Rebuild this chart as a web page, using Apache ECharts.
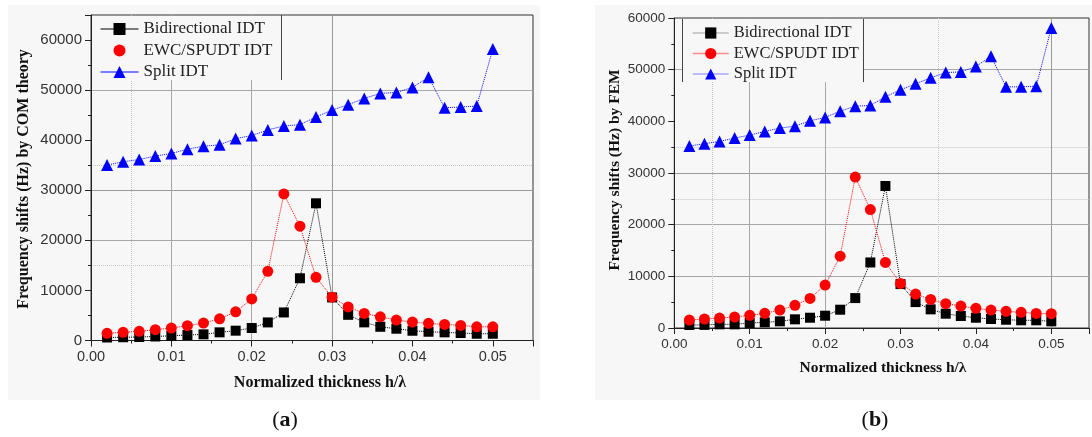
<!DOCTYPE html>
<html>
<head>
<meta charset="utf-8">
<script src="https://cdn.jsdelivr.net/npm/echarts@6/dist/echarts.min.js"></script>
<style>
  html, body { margin: 0; padding: 0; background: #ffffff; }
  #wrap { position: relative; width: 1092px; height: 437px; overflow: hidden; }
  .panel { position: absolute; background: #f7f7f7; }
  #chart { position: absolute; left: 0; top: 0; width: 1092px; height: 437px; }
</style>
</head>
<body>
<div id="wrap">
  <div class="panel" style="left:8px;top:5px;width:532px;height:395px;"></div>
  <div class="panel" style="left:595px;top:5px;width:497px;height:395px;"></div>
  <div id="chart"></div>
</div>
<script>
// ---- data ----
const thickness = [0.002, 0.004, 0.006, 0.008, 0.010, 0.012, 0.014, 0.016, 0.018, 0.020,
                   0.022, 0.024, 0.026, 0.028, 0.030, 0.032, 0.034, 0.036, 0.038, 0.040,
                   0.042, 0.044, 0.046, 0.048, 0.050];
const seriesNames = ['Bidirectional IDT', 'EWC/SPUDT IDT', 'Split IDT'];

// (a) COM theory
const comBidirectional = [600, 650, 700, 800, 950, 1090, 1230, 1630, 1960, 2490, 3610, 5600, 12430, 27400, 8600, 5130, 3620, 2740, 2350, 1950, 1750, 1630, 1490, 1350, 1350];
const comEwcSpudt = [1430, 1630, 1830, 2150, 2490, 2950, 3480, 4340, 5730, 8310, 13820, 29260, 22820, 12620, 8650, 6700, 5400, 4730, 4080, 3680, 3420, 3220, 3020, 2740, 2740];
const comSplit = [35030, 35690, 36150, 36820, 37340, 38200, 38800, 39070, 40320, 40920, 42050, 42840, 43100, 44630, 46020, 47080, 48350, 49340, 49540, 50540, 52580, 46480, 46620, 46820, 58210];

// (b) FEM
const femBidirectional = [580, 600, 710, 710, 970, 1100, 1290, 1680, 1990, 2380, 3540, 5790, 12690, 27480, 8500, 5020, 3610, 2770, 2320, 1990, 1740, 1600, 1490, 1490, 1290];
const femEwcSpudt = [1545, 1740, 1930, 2120, 2450, 2840, 3480, 4380, 5730, 8300, 13900, 29220, 22920, 12690, 8630, 6570, 5540, 4700, 4250, 3800, 3480, 3220, 3030, 2830, 2770];
const femSplit = [35220, 35670, 36110, 36760, 37340, 38050, 38690, 39070, 40110, 40750, 41970, 42930, 43070, 44750, 46100, 47260, 48420, 49440, 49570, 50600, 52600, 46680, 46680, 46800, 58070];

const xTickLabels = ['0.00', '0.01', '0.02', '0.03', '0.04', '0.05'];
const yLabelA = 'Frequency shifts (Hz) by COM theory';
const yLabelB = 'Frequency shifts (Hz) by FEM';
const xLabel = 'Normalized thickness h/λ';

// ---- helpers ----
const pairs = ys => thickness.map((x, i) => [x, ys[i]]);
const T = 'transparent';
const GRID_C = '#a8a8a8';
const DOT_C = '#c4c4c4';
const AXIS_C = '#222';

function majorX(gridIndex, colors, fs) {
  return {
    type: 'value', gridIndex, min: 0, max: 0.055, interval: 0.01, position: 'bottom',
    axisLine: { show: true, onZero: false, lineStyle: { color: AXIS_C, width: 1 } },
    axisTick: { show: true, length: 6, lineStyle: { color: AXIS_C } },
    axisLabel: {
      color: '#333', fontFamily: 'Liberation Sans', fontSize: fs, margin: 9,
      formatter: v => { const k = Math.round(v * 100); return (v > 0.0501) ? '' : xTickLabels[k]; }
    },
    splitLine: { show: true, showMinLine: true, showMaxLine: true, lineStyle: { color: colors, width: 1 } }
  };
}
function minorX(gridIndex, colors) {
  return {
    type: 'value', gridIndex, min: 0, max: 0.055, interval: 0.005, position: 'bottom',
    axisLine: { show: false, onZero: false },
    axisTick: { show: true, length: 3, lineStyle: { color: AXIS_C } },
    axisLabel: { show: false },
    splitLine: { show: true, showMinLine: true, showMaxLine: true, lineStyle: { color: colors, type: 'dotted', width: 1 } }
  };
}
function majorY(gridIndex, max, colors, fs) {
  return {
    type: 'value', gridIndex, min: 0, max, interval: 10000, position: 'left',
    axisLine: { show: true, onZero: false, lineStyle: { color: AXIS_C, width: 1 } },
    axisTick: { show: true, length: 6, lineStyle: { color: AXIS_C } },
    axisLabel: {
      color: '#333', fontFamily: 'Liberation Sans', fontSize: fs, margin: 9,
      formatter: v => (v % 10000 === 0) ? String(v) : ''
    },
    splitLine: { show: true, showMinLine: true, showMaxLine: true, lineStyle: { color: colors, width: 1 } }
  };
}
function minorY(gridIndex, max, colors) {
  return {
    type: 'value', gridIndex, min: 0, max, interval: 5000, position: 'left',
    axisLine: { show: false, onZero: false },
    axisTick: { show: true, length: 3, lineStyle: { color: AXIS_C } },
    axisLabel: { show: false },
    splitLine: { show: true, showMinLine: true, showMaxLine: true, lineStyle: { color: colors, type: 'dotted', width: 1 } }
  };
}
function mkSeries(xi, yi, names, datas) {
  const styles = [
    { color: '#000000', symbol: 'rect', size: 10 },
    { color: '#ff0000', symbol: 'circle', size: 11 },
    { color: '#0000ff', symbol: 'triangle', size: 12 }
  ];
  return datas.map((d, i) => ({
    type: 'line', name: names[i], xAxisIndex: xi, yAxisIndex: yi,
    data: pairs(d), symbol: styles[i].symbol, symbolSize: styles[i].size,
    showAllSymbol: true,
    itemStyle: { color: styles[i].color },
    lineStyle: { color: styles[i].color, width: 1, type: 'dotted' },
    emphasis: { disabled: true }, z: 2 + i
  }));
}

const chart = echarts.init(document.getElementById('chart'), null, { renderer: 'canvas' });
const option = {
  animation: false,
  backgroundColor: 'transparent',
  grid: [
    { left: 91, top: 15, width: 442, height: 325.5, show: true, backgroundColor: T, borderColor: '#333', borderWidth: 1 },
    { left: 674.3, top: 18, width: 421, height: 310, show: true, backgroundColor: T, borderColor: '#333', borderWidth: 1 }
  ],
  xAxis: [
    majorX(0, [T, GRID_C, GRID_C, '#999', T, T, T], 14.5),
    minorX(0, [T, DOT_C, T, T, T, T, T, T, T, T, T, T]),
    majorX(1, [T, GRID_C, GRID_C, T, T, '#999', T], 13.5),
    minorX(1, [T, DOT_C, T, T, T, T, T, DOT_C, T, T, T, T])
  ],
  yAxis: [
    majorY(0, 65000, [T, T, GRID_C, '#999', T, GRID_C, T, T], 15),
    minorY(0, 65000, [T, T, T, DOT_C, T, T, T, DOT_C, T, T, T, T, T, T]),
    majorY(1, 60000, [T, GRID_C, GRID_C, '#999', T, GRID_C, T], 13.5),
    minorY(1, 60000, [T, T, T, T, T, DOT_C, T, DOT_C, T, T, T, T, T])
  ],
  legend: [
    {
      left: 100, top: 19, orient: 'vertical', itemWidth: 38, itemHeight: 15, itemGap: 1.5,
      padding: 0, selectedMode: false,
      textStyle: { fontFamily: 'Liberation Serif', fontSize: 17, color: '#222', lineHeight: 20 },
      data: [
        { name: seriesNames[0], lineStyle: { color: '#000', type: 'solid', width: 1 } },
        { name: seriesNames[1], lineStyle: { color: 'rgba(0,0,0,0)', type: 'solid', width: 1 } },
        { name: seriesNames[2], lineStyle: { color: '#0000ff', type: 'solid', width: 1 } }
      ]
    },
    {
      left: 692, top: 23, orient: 'vertical', itemWidth: 36, itemHeight: 14, itemGap: 0.5,
      padding: 0, selectedMode: false,
      textStyle: { fontFamily: 'Liberation Serif', fontSize: 16.5, color: '#222', lineHeight: 20 },
      data: [
        { name: seriesNames[0], lineStyle: { color: '#bdbdbd', type: 'solid', width: 1.5 } },
        { name: seriesNames[1], lineStyle: { color: '#ff8a8a', type: 'solid', width: 1.5 } },
        { name: seriesNames[2], lineStyle: { color: '#a9a9ff', type: 'solid', width: 1.5 } }
      ]
    }
  ],
  series: [
    ...mkSeries(0, 0, seriesNames, [comBidirectional, comEwcSpudt, comSplit]),
    ...mkSeries(2, 2, seriesNames, [femBidirectional, femEwcSpudt, femSplit])
  ],
  graphic: [
    // legend box (a)
    { type: 'rect', z: 1, shape: { x: 92, y: 16, width: 189, height: 64 }, style: { fill: '#f7f7f7' } },
    { type: 'line', z: 1, shape: { x1: 281.5, y1: 15, x2: 281.5, y2: 80 }, style: { stroke: '#444', lineWidth: 1 } },
    // legend box (b)
    { type: 'rect', z: 1, shape: { x: 683, y: 19, width: 180, height: 63 }, style: { fill: '#f7f7f7' } },
    { type: 'line', z: 1, shape: { x1: 682.5, y1: 19, x2: 682.5, y2: 82 }, style: { stroke: '#444', lineWidth: 1 } },
    { type: 'line', z: 1, shape: { x1: 863.5, y1: 19, x2: 863.5, y2: 82 }, style: { stroke: '#444', lineWidth: 1 } },
    // axis titles
    { type: 'text', x: 24, y: 179, rotation: Math.PI / 2, z: 5,
      style: { text: yLabelA, font: 'bold 16px "Liberation Serif"', fill: '#111', align: 'center', verticalAlign: 'middle' } },
    { type: 'text', x: 615, y: 170, rotation: Math.PI / 2, z: 5,
      style: { text: yLabelB, font: 'bold 15.5px "Liberation Serif"', fill: '#111', align: 'center', verticalAlign: 'middle' } },
    { type: 'text', x: 320, y: 383, z: 5,
      style: { text: xLabel, font: 'bold 16px "Liberation Serif"', fill: '#111', align: 'center', verticalAlign: 'middle' } },
    { type: 'text', x: 883, y: 368, z: 5,
      style: { text: xLabel, font: 'bold 15.5px "Liberation Serif"', fill: '#111', align: 'center', verticalAlign: 'middle' } },
    // panel letters
    { type: 'text', x: 285, y: 420, z: 5,
      style: { text: '{p|(}{l|a}{p|)}', align: 'center', verticalAlign: 'middle',
        rich: { p: { font: '22px "Liberation Serif"', fill: '#111' }, l: { font: 'bold 22px "Liberation Serif"', fill: '#111' } } } },
    { type: 'text', x: 875, y: 420, z: 5,
      style: { text: '{p|(}{l|b}{p|)}', align: 'center', verticalAlign: 'middle',
        rich: { p: { font: '22px "Liberation Serif"', fill: '#111' }, l: { font: 'bold 22px "Liberation Serif"', fill: '#111' } } } }
  ]
};
chart.setOption(option);
</script>
</body>
</html>
